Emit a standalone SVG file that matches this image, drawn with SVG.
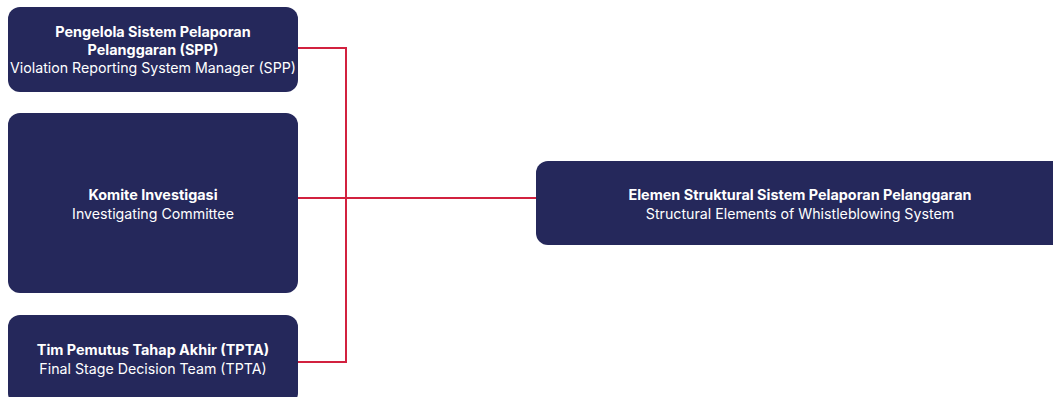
<svg xmlns="http://www.w3.org/2000/svg" width="1053" height="397" viewBox="0 0 1053 397">
<style>
.box{fill:#25285b}
.t{font-family:Inter,"Liberation Sans",sans-serif;font-size:14.2px;fill:#ffffff;text-anchor:middle}
.b{font-weight:700;font-size:14.4px}
.c{fill:none;stroke:#d2213f;stroke-width:2}
</style>
<rect width="1053" height="397" fill="#ffffff"/>
<g id="connectors">
<path class="c" d="M298 48H346V362H298"/>
<path class="c" d="M298 198H536"/>
</g>
<g id="node-spp">
<rect class="box" x="8" y="7" width="290" height="85" rx="12"/>
<text class="t b" x="153" y="37">Pengelola Sistem Pelaporan</text>
<text class="t b" x="153" y="55">Pelanggaran (SPP)</text>
<text class="t" x="153" y="73">Violation Reporting System Manager (SPP)</text>
</g>
<g id="node-komite">
<rect class="box" x="8" y="113" width="290" height="180" rx="12"/>
<text class="t b" x="153" y="200">Komite Investigasi</text>
<text class="t" x="153" y="219">Investigating Committee</text>
</g>
<g id="node-tpta">
<rect class="box" x="8" y="315" width="290" height="90" rx="12"/>
<text class="t b" x="153" y="355">Tim Pemutus Tahap Akhir (TPTA)</text>
<text class="t" x="153" y="374">Final Stage Decision Team (TPTA)</text>
</g>
<g id="node-elemen">
<rect class="box" x="536" y="161" width="530" height="84" rx="12"/>
<text class="t b" x="800" y="200">Elemen Struktural Sistem Pelaporan Pelanggaran</text>
<text class="t" x="800" y="219">Structural Elements of Whistleblowing System</text>
</g>
</svg>
